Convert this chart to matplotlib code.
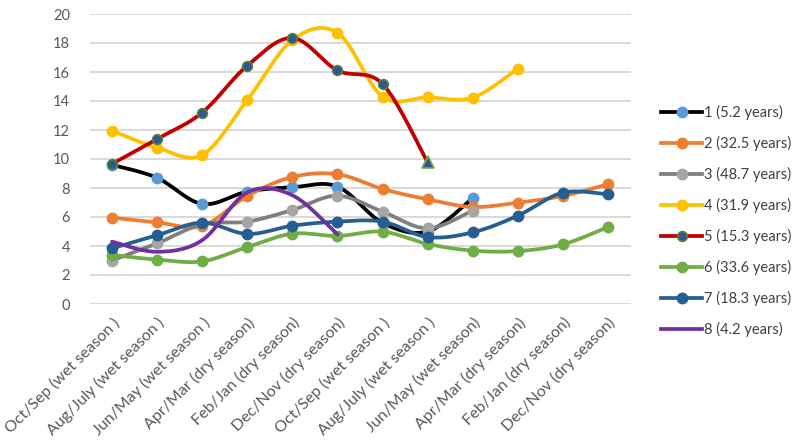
import numpy as np
import matplotlib
matplotlib.use("Agg")
import matplotlib.pyplot as plt
from matplotlib.lines import Line2D

plt.rcParams['font.family'] = ['Lato', 'DejaVu Sans']

categories = ["Oct/Sep (wet season )", "Aug/July (wet season )", "Jun/May (wet season )",
              "Apr/Mar (dry season)", "Feb/Jan (dry season)", "Dec/Nov (dry season)",
              "Oct/Sep (wet season )", "Aug/July (wet season )", "Jun/May (wet season)",
              "Apr/Mar (dry season)", "Feb/Jan (dry season)", "Dec/Nov (dry season)"]

labels = ["1 (5.2 years)", "2 (32.5 years)", "3 (48.7 years)", "4 (31.9 years)",
          "5 (15.3 years)", "6 (33.6 years)", "7 (18.3 years)", "8 (4.2 years)"]

s1 = [9.6, 8.7, 6.9, 7.75, 8.05, 8.1, 5.6, 5.0, 7.3]
s2 = [5.95, 5.63, 5.38, 7.45, 8.76, 8.95, 7.93, 7.22, 6.69, 6.99, 7.45, 8.25]
s3 = [3.0, 4.18, 5.5, 5.68, 6.48, 7.47, 6.37, 5.22, 6.44]
s4 = [11.95, 10.78, 10.28, 14.07, 18.2, 18.71, 14.3, 14.25, 14.23, 16.23]
s5 = [9.66, 11.38, 13.2, 16.44, 18.35, 16.11, 15.17, 9.77]
s6 = [3.38, 3.06, 2.94, 3.93, 4.85, 4.69, 4.99, 4.14, 3.68, 3.65, 4.11, 5.31]
s7 = [3.84, 4.74, 5.61, 4.83, 5.4, 5.68, 5.68, 4.62, 4.94, 6.09, 7.68, 7.56]
s8 = [4.3, 3.6, 4.4, 7.7, 7.5, 4.8]

series = [s1, s2, s3, s4, s5, s6, s7, s8]

line_colors = ['#000000', '#ED7D31', '#7F7F7F', '#FFC000', '#C00000', '#70AD47', '#255E91', '#7030A0']
mface = ['#5B9BD5', '#ED7D31', '#A5A5A5', '#FFC000', '#2F5597', '#70AD47', '#255E91', None]
medge = ['#5B9BD5', '#ED7D31', '#A5A5A5', '#FFC000', '#548235', '#70AD47', '#255E91', None]


def smooth(xs, ys, n=30):
    xs = np.asarray(xs, float)
    ys = np.asarray(ys, float)
    P = np.column_stack([xs, ys])
    m = len(P)
    out = [P[0]]
    for i in range(m - 1):
        p0 = P[i - 1] if i > 0 else P[i]
        p1 = P[i]
        p2 = P[i + 1]
        p3 = P[i + 2] if i + 2 < m else P[i + 1]
        c1 = p1 + (p2 - p0) / 6.0
        c2 = p2 - (p3 - p1) / 6.0
        t = np.linspace(0, 1, n)[1:, None]
        b = ((1 - t) ** 3) * p1 + 3 * ((1 - t) ** 2) * t * c1 + 3 * (1 - t) * t ** 2 * c2 + t ** 3 * p2
        out.extend(b)
    out = np.array(out)
    return out[:, 0], out[:, 1]


fig = plt.figure(figsize=(7.99, 4.41), dpi=100)
ax = fig.add_axes([89.5 / 799, 1 - 304 / 441, 541 / 799, 290 / 441])

x_all = np.arange(len(categories))
lw = 2.7
ms = 7.5
handles = []
for k, ys in enumerate(series):
    xs = x_all[:len(ys)]
    sx, sy = smooth(xs, ys)
    z = 3 + k
    ax.plot(sx, sy, color=line_colors[k], lw=lw, solid_capstyle='round', zorder=z)
    if mface[k] is not None:
        if k == 4:
            ax.plot(xs[:-1], ys[:-1], 'o', ms=7, mfc=mface[k], mec=medge[k], mew=1.2, zorder=z)
            ax.plot(xs[-1:], ys[-1:], '^', ms=8, mfc=mface[k], mec='#70AD47', mew=1.2, zorder=z)
            h = Line2D([], [], color=line_colors[k], lw=lw, marker='o', ms=7, mfc=mface[k], mec=medge[k], mew=1.2)
        else:
            ax.plot(xs, ys, 'o', ms=ms, mfc=mface[k], mec=medge[k], zorder=z)
            h = Line2D([], [], color=line_colors[k], lw=lw, marker='o', ms=ms, mfc=mface[k], mec=medge[k])
    else:
        h = Line2D([], [], color=line_colors[k], lw=lw)
    handles.append(h)

ax.set_xlim(-0.5, len(categories) - 0.5)
ax.set_ylim(0, 20)
ax.set_yticks(np.arange(0, 21, 2))
ax.yaxis.grid(True, color='#D9D9D9', lw=1.4)
ax.set_axisbelow(True)
for s in ax.spines.values():
    s.set_visible(False)
ax.tick_params(axis='both', length=0)
ax.tick_params(axis='y', pad=14, labelsize=10.5, labelcolor='#595959')
ax.set_xticks(x_all)
ax.set_xticklabels(categories, rotation=45, ha='right', rotation_mode='anchor',
                   fontsize=11.5, color='#595959')
ax.tick_params(axis='x', pad=8)

leg = fig.legend(handles, labels, loc='center left', bbox_to_anchor=(648 / 799, 1 - 221 / 441),
                 frameon=False, fontsize=10.5, handlelength=2.8, handletextpad=0.15,
                 labelspacing=1.1, labelcolor='#404040', numpoints=1)

fig.savefig('out.png', dpi=100)
